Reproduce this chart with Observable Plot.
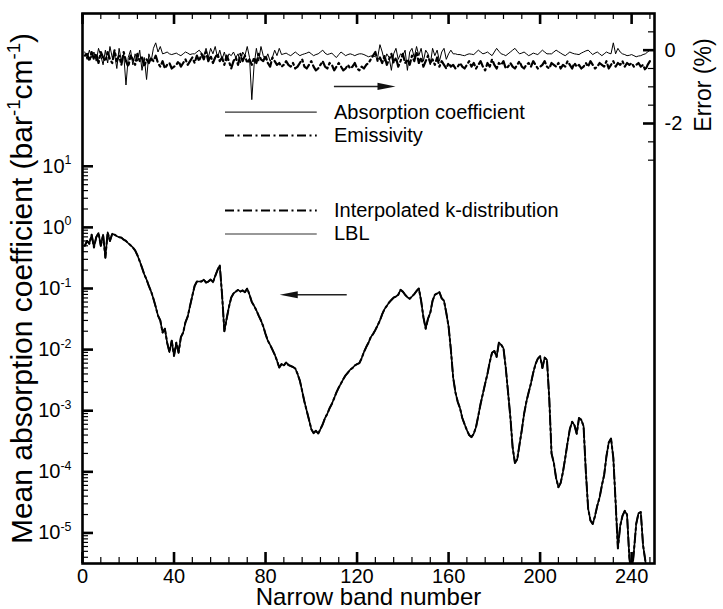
<!DOCTYPE html>
<html><head><meta charset="utf-8">
<script src="https://cdn.jsdelivr.net/npm/d3@7"></script>
<script src="https://cdn.jsdelivr.net/npm/@observablehq/plot@0.6"></script>
<style>body{margin:0;background:#fff} svg{display:block}</style>
</head><body><div id="chart"></div>
<script>
// ---------- data ----------
const lblBands = d3.range(1, 248); // narrow band numbers 1..247
const lblK = [
0.50,0.60,0.54,0.76,0.47,0.69,0.81,0.50,0.76,0.32,
0.83,0.60,0.79,0.76,0.72,0.69,0.68,0.63,0.60,0.55,
0.51,0.47,0.42,0.35,0.28,0.22,0.17,0.14,0.11,0.089,
0.068,0.050,0.036,0.030,0.019,0.022,0.013,0.0091,0.014,0.0079,
0.013,0.0089,0.016,0.019,0.028,0.035,0.052,0.076,0.11,0.13,
0.13,0.13,0.14,0.125,0.13,0.14,0.126,0.16,0.20,0.24,
0.079,0.020,0.032,0.050,0.071,0.083,0.089,0.095,0.089,0.093,
0.087,0.10,0.079,0.060,0.052,0.044,0.036,0.030,0.024,0.018,
0.014,0.012,0.010,0.0083,0.0066,0.0051,0.0058,0.0055,0.0062,0.0056,
0.0054,0.0052,0.0049,0.0040,0.0031,0.0021,0.0014,0.0010,0.00071,0.00050,
0.00043,0.00047,0.00042,0.00050,0.00060,0.00076,0.00089,0.0011,0.0013,0.0016,
0.0020,0.0024,0.0028,0.0033,0.0038,0.0042,0.0047,0.0050,0.0055,0.0058,
0.0060,0.0072,0.0091,0.011,0.013,0.016,0.018,0.021,0.025,0.030,
0.038,0.046,0.052,0.059,0.065,0.071,0.074,0.079,0.095,0.089,
0.079,0.072,0.068,0.074,0.081,0.091,0.10,0.063,0.034,0.022,
0.032,0.040,0.063,0.079,0.083,0.087,0.069,0.063,0.040,0.024,
0.010,0.0035,0.0020,0.0014,0.0011,0.00076,0.00060,0.00048,0.00040,0.00037,
0.00042,0.00054,0.00083,0.0013,0.0019,0.0028,0.0040,0.0063,0.0089,0.0095,
0.0076,0.013,0.012,0.0105,0.0050,0.0020,0.00079,0.00025,0.00014,0.00016,
0.00028,0.00048,0.00089,0.0014,0.0020,0.0028,0.0042,0.0058,0.0071,0.0078,
0.0050,0.0074,0.0068,0.0016,0.00020,0.00014,7.9e-5,5.6e-5,6.6e-5,1.0e-4,
1.7e-4,3.0e-4,5.0e-4,6.6e-4,5.8e-4,4.2e-4,7.6e-4,7.1e-4,5.6e-4,1.0e-4,
2.5e-5,1.6e-5,1.4e-5,1.9e-5,2.8e-5,3.8e-5,6.0e-5,8.9e-5,1.8e-4,3.0e-4,
3.5e-4,1.7e-4,3.2e-5,5.6e-6,1.3e-5,1.9e-5,2.3e-5,2.0e-5,4.0e-6,2.0e-6,
5.0e-6,1.4e-5,2.1e-5,2.2e-5,6.3e-6,3.5e-6,2.2e-6
];
// interpolated k-distribution coincides with LBL at this scale
const kdistK = lblK.slice();

const errBands = d3.range(1, 249); // 1..248
const absCoefErr = [
-0.05,-0.25,0.00,-0.20,-0.05,-0.30,0.05,-0.15,-0.40,0.00,
-0.35,0.10,-0.20,-0.10,-0.50,0.05,-0.30,-0.10,-0.95,-0.20,
0.00,-0.40,-0.10,-0.30,0.00,-0.55,-0.20,-0.80,-0.10,-0.30,
0.05,0.20,-0.05,0.10,-0.10,-0.08,-0.05,-0.10,-0.12,-0.10,
-0.08,-0.12,-0.15,-0.10,-0.05,-0.08,-0.12,-0.10,-0.10,-0.05,
0.00,-0.08,-0.15,0.05,-0.20,0.05,-0.10,0.10,-0.20,0.00,
-0.25,-0.05,-0.30,-0.10,-0.15,-0.05,-0.20,-0.10,-0.35,-0.05,
-0.15,0.10,-0.20,-1.35,-0.40,0.05,-0.30,0.10,-0.15,-0.25,
-0.10,-0.30,-0.20,0.00,-0.15,0.05,-0.12,-0.10,-0.08,-0.12,
-0.15,-0.10,-0.05,-0.10,-0.15,-0.12,-0.10,-0.08,-0.05,-0.10,
-0.15,-0.12,-0.10,-0.05,0.00,-0.08,-0.12,-0.10,-0.08,-0.15,
-0.20,-0.12,-0.05,-0.10,-0.15,-0.12,-0.10,-0.12,-0.15,-0.12,
-0.10,-0.10,-0.12,-0.15,-0.18,-0.16,-0.15,-0.18,-0.20,0.15,
-0.05,-0.30,-0.10,-0.20,-0.55,-0.10,0.05,-0.25,-0.10,-0.15,
0.00,-0.55,-0.05,0.05,-0.20,0.10,-0.15,0.05,-0.30,0.00,
-0.10,-0.40,0.05,-0.15,0.00,-0.30,-0.05,0.05,-0.25,-0.10,
0.00,-0.10,-0.10,-0.12,-0.12,-0.14,-0.15,-0.12,-0.10,-0.11,
-0.12,-0.06,0.00,-0.05,-0.10,-0.08,-0.05,-0.10,-0.15,-0.05,
0.05,-0.03,-0.10,-0.12,-0.15,-0.10,-0.05,0.00,0.05,-0.03,
-0.10,-0.08,-0.05,-0.10,-0.15,-0.12,-0.08,-0.10,-0.12,-0.06,
0.00,-0.05,-0.10,-0.10,-0.10,-0.05,0.00,-0.04,-0.08,-0.12,
-0.15,-0.10,-0.05,-0.08,-0.10,-0.11,-0.12,-0.08,-0.05,-0.02,
0.00,-0.06,-0.12,-0.08,-0.05,-0.10,-0.15,-0.10,-0.05,-0.08,
-0.10,0.20,-0.10,0.05,-0.05,-0.10,-0.12,-0.15,-0.14,-0.12,
-0.15,-0.18,-0.16,-0.15,-0.12,-0.10,-0.05,0.00
];
const emissivityErr = [
-0.15,-0.10,-0.30,-0.05,-0.25,-0.10,-0.35,-0.05,-0.20,-0.30,
-0.05,-0.25,-0.35,0.00,-0.30,-0.15,-0.40,-0.05,-0.30,-0.45,
-0.15,-0.25,-0.40,-0.10,-0.30,-0.20,-0.45,-0.25,-0.35,-0.20,
-0.30,-0.15,-0.35,-0.45,-0.30,-0.50,-0.40,-0.35,-0.50,-0.45,
-0.40,-0.30,-0.45,-0.35,-0.25,-0.40,-0.30,-0.20,-0.35,-0.15,
-0.30,-0.10,-0.25,-0.05,-0.30,-0.15,-0.35,-0.20,-0.10,-0.30,
-0.20,-0.40,-0.15,-0.30,-0.50,-0.30,-0.20,-0.40,-0.10,-0.30,
-0.15,-0.35,-0.25,-0.40,-0.20,-0.35,-0.10,-0.25,-0.30,-0.15,
-0.35,-0.45,-0.20,-0.30,-0.40,-0.35,-0.45,-0.40,-0.30,-0.40,
-0.45,-0.35,-0.50,-0.45,-0.35,-0.25,-0.45,-0.50,-0.40,-0.30,
-0.45,-0.55,-0.50,-0.40,-0.30,-0.45,-0.50,-0.35,-0.40,-0.55,
-0.45,-0.35,-0.45,-0.55,-0.50,-0.40,-0.50,-0.45,-0.35,-0.50,
-0.55,-0.45,-0.50,-0.40,-0.35,-0.25,-0.15,-0.05,-0.30,-0.20,
-0.35,-0.15,-0.40,-0.25,-0.10,-0.35,-0.20,-0.45,-0.30,-0.10,
-0.35,-0.25,-0.40,-0.15,-0.30,-0.05,-0.35,-0.20,-0.45,-0.30,
-0.15,-0.35,-0.25,-0.40,-0.20,-0.45,-0.30,-0.40,-0.50,-0.35,
-0.45,-0.40,-0.50,-0.45,-0.35,-0.45,-0.50,-0.40,-0.30,-0.45,
-0.35,-0.50,-0.40,-0.30,-0.45,-0.55,-0.35,-0.45,-0.25,-0.40,
-0.50,-0.35,-0.40,-0.30,-0.50,-0.45,-0.35,-0.45,-0.50,-0.40,
-0.30,-0.45,-0.50,-0.40,-0.35,-0.45,-0.30,-0.40,-0.50,-0.45,
-0.40,-0.30,-0.45,-0.50,-0.35,-0.40,-0.45,-0.35,-0.50,-0.40,
-0.45,-0.30,-0.40,-0.50,-0.35,-0.45,-0.40,-0.50,-0.45,-0.35,
-0.45,-0.30,-0.40,-0.50,-0.45,-0.35,-0.40,-0.45,-0.30,-0.50,
-0.40,-0.30,-0.45,-0.35,-0.40,-0.30,-0.45,-0.35,-0.40,-0.35,
-0.45,-0.40,-0.35,-0.45,-0.40,-0.55,-0.40,-0.30
];

// tick labels
const xMajorTicks = [0, 40, 80, 120, 160, 200, 240];
const yMajorExponents = [-5, -4, -3, -2, -1, 0, 1];
const errLabelValues = [0, -2];
const errMajorTicks = [0, -2];
const errMinorTicks = [0.5, -0.5, -1, -1.5, -2.5, -3];

const legendTop = ["Absorption coefficient", "Emissivity"];
const legendBottom = ["Interpolated k-distribution", "LBL"];

// ---------- build ----------
const W = 723, H = 609;
const mL = 82, mR = 69, mT = 13, mB = 46;
const FW = W - mL - mR, FH = H - mT - mB;
// error (%) axis on the right shares the plot: +1 % at top, -14 % at bottom of the log axis
const toErrY = e => Math.pow(10, 2.9 + 0.6 * e);

const xMinorTicks = d3.range(8, 250, 8).filter(d => d % 40 !== 0);
const yMajor = yMajorExponents.map(e => Math.pow(10, e));
const yMinor = [];
for (let e = -6; e <= 0; e++) for (let m = 2; m <= 9; m++) {
  const v = m * Math.pow(10, e);
  if (v > Math.pow(10, -5.5) && v < 10) yMinor.push(v);
}

const lbl = lblBands.map((b, i) => ({band: b, k: lblK[i]}));
const kdist = lblBands.map((b, i) => ({band: b, k: kdistK[i]}));
const absErr = errBands.map((b, i) => ({band: b, e: absCoefErr[i]}));
const emisErr = errBands.map((b, i) => ({band: b, e: emissivityErr[i]}));

const arrowRight = {draw(c) { c.moveTo(0, 0); c.lineTo(-18, -3.6); c.lineTo(-18, 3.6); c.closePath(); }};
const arrowLeft = {draw(c) { c.moveTo(0, 0); c.lineTo(18, -3.6); c.lineTo(18, 3.6); c.closePath(); }};

const dashDot = "9,3.5,2,3.5";
const font = "'Liberation Sans', Arial, Helvetica, sans-serif";

const svg = Plot.plot({
  width: W, height: H,
  marginLeft: mL, marginRight: mR, marginTop: mT, marginBottom: mB,
  x: {domain: [0, 250], axis: null},
  y: {type: "log", domain: [Math.pow(10, -5.5), Math.pow(10, 3.5)], axis: null},
  style: {fontFamily: font, background: "white", color: "black", overflow: "visible"},
  marks: [
    // inward ticks
    Plot.tickX(xMinorTicks, {x: d => d, insetTop: FH - 6, strokeWidth: 1.2}),
    Plot.tickX(xMajorTicks, {x: d => d, insetTop: FH - 11, strokeWidth: 2.6}),
    Plot.tickX(xMinorTicks, {x: d => d, insetBottom: FH - 6, strokeWidth: 1.2}),
    Plot.tickX(xMajorTicks, {x: d => d, insetBottom: FH - 11, strokeWidth: 2.6}),
    Plot.tickY(yMinor, {y: d => d, insetRight: FW - 6, strokeWidth: 1.2}),
    Plot.tickY(yMajor, {y: d => d, insetRight: FW - 11, strokeWidth: 2.6}),
    Plot.tickY(errMinorTicks, {y: toErrY, insetLeft: FW - 6, strokeWidth: 1.2}),
    Plot.tickY(errMajorTicks, {y: toErrY, insetLeft: FW - 11, strokeWidth: 2.6}),
    // tick labels
    Plot.text(xMajorTicks, {x: d => d, text: d => String(d), frameAnchor: "bottom", dy: 13, lineAnchor: "middle", textAnchor: "middle", fontSize: 20}),
    Plot.text(yMajorExponents, {y: e => Math.pow(10, e), text: e => `10^{${e}}`, frameAnchor: "left", dx: -11, textAnchor: "end", lineAnchor: "middle", fontSize: 20}),
    Plot.text(errLabelValues, {y: toErrY, text: e => e === 0 ? "0" : "-2", frameAnchor: "right", dx: 10, textAnchor: "start", lineAnchor: "middle", fontSize: 20}),
    // axis titles
    Plot.text(["Narrow band number"], {frameAnchor: "bottom", dy: 34, textAnchor: "middle", lineAnchor: "middle", fontSize: 24}),
    Plot.text(["Mean absorption coefficient (bar^{-1}cm^{-1})"], {frameAnchor: "left", dx: -60, rotate: -90, textAnchor: "middle", lineAnchor: "middle", fontSize: 30}),
    Plot.text(["Error (%)"], {frameAnchor: "right", y: toErrY(-0.95), dx: 49, rotate: -90, textAnchor: "middle", lineAnchor: "middle", fontSize: 23}),
    // error curves
    Plot.line(absErr, {x: "band", y: d => toErrY(d.e), stroke: "black", strokeWidth: 1, clip: true}),
    Plot.line(emisErr, {x: "band", y: d => toErrY(d.e), stroke: "black", strokeWidth: 2.2, strokeDasharray: dashDot, clip: true}),
    // mean absorption coefficient curves
    Plot.line(lbl, {x: "band", y: "k", stroke: "black", strokeWidth: 1.6, clip: true}),
    Plot.line(kdist, {x: "band", y: "k", stroke: "black", strokeWidth: 2, strokeDasharray: dashDot, clip: true}),
    // legends
    Plot.ruleY([76.7], {x1: 62.5, x2: 102.6, stroke: "#333", strokeWidth: 1.2}),
    Plot.ruleY([31.8], {x1: 62.5, x2: 102.6, stroke: "black", strokeWidth: 2, strokeDasharray: dashDot}),
    Plot.ruleY([1.89], {x1: 62.5, x2: 102.6, stroke: "black", strokeWidth: 2, strokeDasharray: dashDot}),
    Plot.ruleY([0.78], {x1: 62.5, x2: 102.6, stroke: "#333", strokeWidth: 1.2}),
    Plot.text(legendTop, {x: 109.9, y: (d, i) => [76.7, 31.8][i], text: d => d, textAnchor: "start", lineAnchor: "middle", fontSize: 20}),
    Plot.text(legendBottom, {x: 109.9, y: (d, i) => [1.89, 0.78][i], text: d => d, textAnchor: "start", lineAnchor: "middle", fontSize: 20}),
    // arrows
    Plot.ruleY([toErrY(-0.99)], {x1: 110.1, x2: 130, stroke: "#222", strokeWidth: 1.6}),
    Plot.dot([0], {x: 136.8, y: toErrY(-0.99), r: 5, symbol: arrowRight, fill: "#111", stroke: null}),
    Plot.ruleY([0.079], {x1: 115.7, x2: 92, stroke: "#222", strokeWidth: 1.6}),
    Plot.dot([0], {x: 86.2, y: 0.079, r: 5, symbol: arrowLeft, fill: "#111", stroke: null}),
    Plot.frame({stroke: "black", strokeWidth: 2.6})
  ]
});

// superscripts: "^{...}" -> raised tspans
svg.querySelectorAll("text").forEach(t => {
  const s = t.textContent;
  if (!s.includes("^{")) return;
  const fs = parseFloat(t.closest("[font-size]")?.getAttribute("font-size")) || 20;
  const parts = s.split(/(\^\{[^}]*\})/).filter(p => p);
  t.textContent = "";
  let raised = false;
  for (const p of parts) {
    const ts = document.createElementNS("http://www.w3.org/2000/svg", "tspan");
    if (p.startsWith("^{")) {
      ts.textContent = p.slice(2, -1);
      ts.setAttribute("font-size", (fs * 0.62).toFixed(1));
      if (!raised) ts.setAttribute("dy", (-fs * 0.42).toFixed(1));
      raised = true;
    } else {
      ts.textContent = p;
      if (raised) ts.setAttribute("dy", (fs * 0.42).toFixed(1));
      raised = false;
    }
    t.appendChild(ts);
  }
});

document.getElementById("chart").appendChild(svg);
</script>
</body></html>
